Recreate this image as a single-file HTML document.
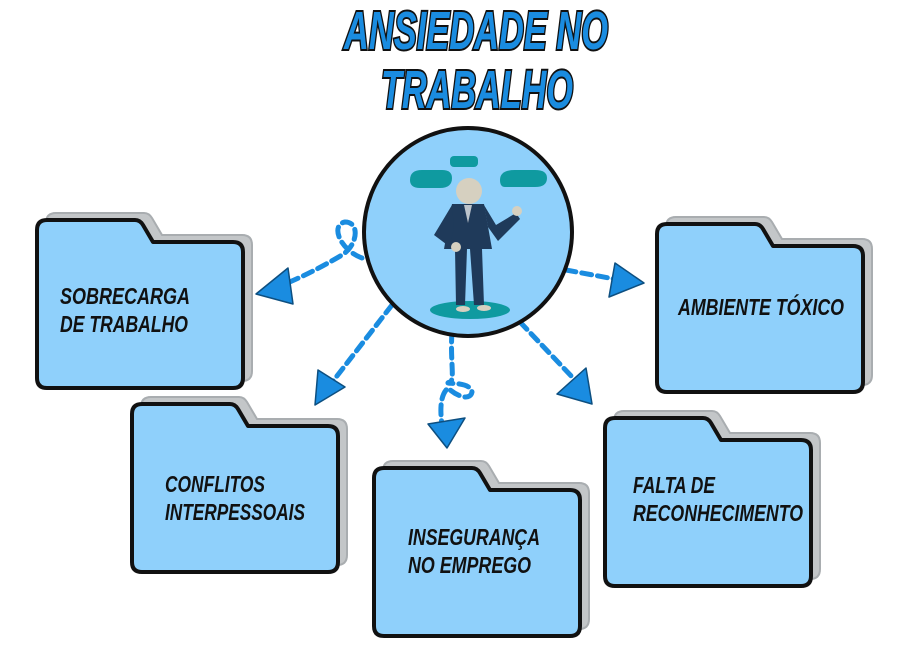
<!DOCTYPE html>
<html><head><meta charset="utf-8"><style>
html,body{margin:0;padding:0;background:#fff;}
svg{display:block;}
.t{font-family:"Liberation Sans Narrow","Liberation Sans",sans-serif;font-weight:bold;font-style:italic;}
.lab{font-family:"Liberation Sans Narrow","Liberation Sans",sans-serif;font-weight:bold;font-style:italic;font-size:23px;fill:#111;}
</style></head><body>
<svg width="900" height="670" viewBox="0 0 900 670" xmlns="http://www.w3.org/2000/svg">
<defs>
<g id="fold">
<path d="M12,0 H100 Q105,0 108,5 L118,22 H198 Q208,22 208,32 V158 Q208,168 198,168 H12 Q2,168 2,158 V10 Q2,0 12,0 Z" fill="#c3c6c8" stroke="#a9adb0" stroke-width="2" transform="translate(9,-7)"/>
<path d="M12,0 H100 Q105,0 108,5 L118,22 H198 Q208,22 208,32 V158 Q208,168 198,168 H12 Q2,168 2,158 V10 Q2,0 12,0 Z" fill="#8fd0fb" stroke="#111" stroke-width="4" stroke-linejoin="round"/>
</g>
</defs>

<!-- title -->
<text class="t" x="476" y="49" text-anchor="middle" font-size="54" textLength="264" lengthAdjust="spacingAndGlyphs" fill="#1a8ce0" stroke="#111" stroke-width="4" paint-order="stroke">ANSIEDADE NO</text>
<text class="t" x="477" y="108" text-anchor="middle" font-size="54" textLength="192" lengthAdjust="spacingAndGlyphs" fill="#1a8ce0" stroke="#111" stroke-width="4" paint-order="stroke">TRABALHO</text>

<!-- folders -->
<use href="#fold" transform="translate(35,220)"/>
<use href="#fold" transform="translate(130,404)"/>
<use href="#fold" transform="translate(372,468)"/>
<use href="#fold" transform="translate(603,418)"/>
<use href="#fold" transform="translate(655,224)"/>

<g class="lab">
<text class="lab" x="60" y="304" textLength="130" lengthAdjust="spacingAndGlyphs">SOBRECARGA</text>
<text class="lab" x="60" y="332" textLength="128" lengthAdjust="spacingAndGlyphs">DE TRABALHO</text>
<text class="lab" x="165" y="492" textLength="100" lengthAdjust="spacingAndGlyphs">CONFLITOS</text>
<text class="lab" x="165" y="520" textLength="140" lengthAdjust="spacingAndGlyphs">INTERPESSOAIS</text>
<text class="lab" x="408" y="545" textLength="132" lengthAdjust="spacingAndGlyphs">INSEGURANÇA</text>
<text class="lab" x="408" y="573" textLength="123" lengthAdjust="spacingAndGlyphs">NO EMPREGO</text>
<text class="lab" x="633" y="493" textLength="82" lengthAdjust="spacingAndGlyphs">FALTA DE</text>
<text class="lab" x="633" y="521" textLength="170" lengthAdjust="spacingAndGlyphs">RECONHECIMENTO</text>
<text class="lab" x="678" y="315" textLength="166" lengthAdjust="spacingAndGlyphs">AMBIENTE TÓXICO</text>
</g>

<!-- connectors -->
<g fill="none" stroke="#1a8ce0" stroke-width="5" stroke-dasharray="10 6" stroke-linecap="round">
<path d="M362,258 C340,250 330,225 345,222 C360,222 358,245 342,255 C320,268 300,278 280,286"/>
<path d="M392,305 L330,385"/>
<path d="M452,332 C450,360 455,380 450,382 C440,385 470,380 472,392 C470,402 455,395 448,388 C440,395 440,410 442,425"/>
<path d="M520,322 L575,380"/>
<path d="M566,270 L620,280"/>
</g>
<g fill="#1a8ce0" stroke="#0d4f80" stroke-width="1.5" stroke-linejoin="round">
<polygon points="256,294 288,268 293,304"/>
<polygon points="315,405 318,370 345,387"/>
<polygon points="447,448 428,424 465,418"/>
<polygon points="592,404 557,394 586,368"/>
<polygon points="644,283 615,263 609,297"/>
</g>

<!-- center circle -->
<circle cx="468" cy="232" r="104" fill="#8fd0fb" stroke="#111" stroke-width="4"/>
<!-- figure -->
<ellipse cx="470" cy="310" rx="40" ry="9" fill="#0f9aa0"/>
<path d="M410,180 q0,-10 12,-10 h20 q10,0 10,8 q0,10 -12,10 h-20 q-10,0 -10,-8z" fill="#0f9aa0"/>
<rect x="450" y="156" width="28" height="11" rx="4" fill="#0f9aa0"/>
<path d="M500,180 q0,-10 15,-10 h20 q12,0 12,8 q0,9 -12,9 h-30 q-5,0 -5,-7z" fill="#0f9aa0"/>
<circle cx="469" cy="191" r="13" fill="#d6d0c0"/>
<path d="M452,204 h32 l8,45 h-48z" fill="#1f3a5a"/>
<path d="M452,205 l-18,30 l16,12 l4,-20z" fill="#1f3a5a"/>
<path d="M484,205 l12,20 l20,-12 l4,6 l-22,22 l-10,-14z" fill="#1f3a5a"/>
<path d="M455,249 h12 l-2,56 h-9z M470,249 h12 l2,56 h-10z" fill="#1f3a5a"/>
<path d="M464,205 l4,18 l4,-18z" fill="#bcc4cc"/>
<circle cx="456" cy="247" r="5" fill="#d6d0c0"/>
<circle cx="517" cy="211" r="5" fill="#d6d0c0"/>
<ellipse cx="463" cy="309" rx="7" ry="3" fill="#d6d0c0"/>
<ellipse cx="484" cy="308" rx="7" ry="3" fill="#d6d0c0"/>
</svg>
</body></html>
